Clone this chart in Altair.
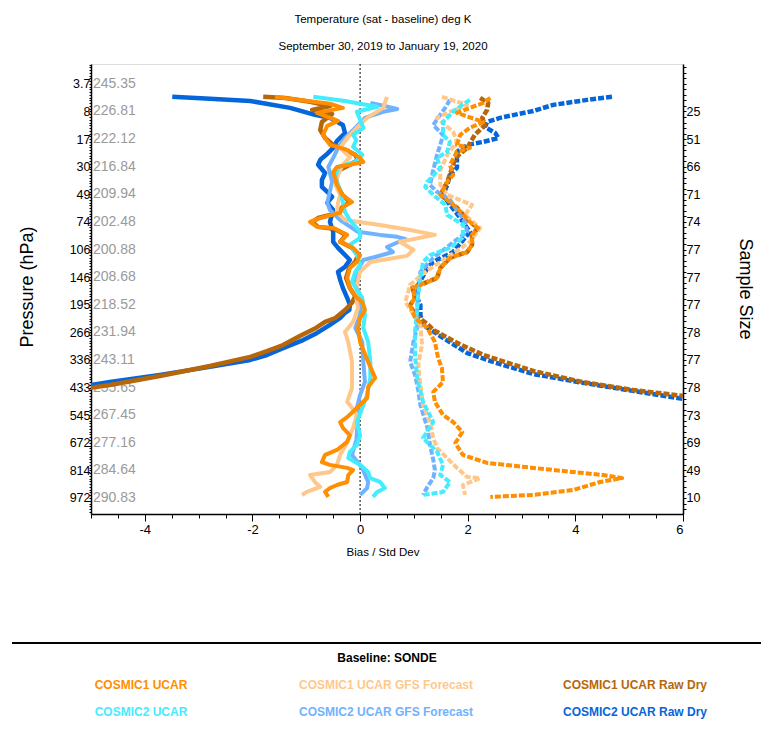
import json
import altair as alt
import numpy as np
import pandas as pd

# ---------------- axis labels ----------------
pressure = ["3.7", "8", "17", "30", "49", "74", "106", "146", "195", "266",
            "336", "433", "545", "672", "814", "972"]
temps = ["245.35", "226.81", "222.12", "216.84", "209.94", "202.48", "200.88",
         "208.68", "218.52", "231.94", "243.11", "255.65", "267.45", "277.16",
         "284.64", "290.83"]
sample = ["", "25", "51", "66", "71", "74", "77", "77", "77", "78", "77",
          "78", "73", "69", "49", "10"]

# ---------------- series (level index, value) ----------------
c2_raw_bias_lev = [0.47, 0.54, 0.62, 0.87, 1.12, 1.23, 1.49, 1.78, 2.07, 2.32, 2.57, 2.75, 2.93, 3.23, 3.48,
                   3.73, 3.91, 4.09, 4.31, 4.57, 5.0, 5.36, 5.72, 5.94, 6.20, 6.38, 6.63, 6.81, 7.10, 7.39,
                   7.75, 8.01, 8.19, 8.30, 8.48, 8.73, 9.02, 9.28, 9.57, 9.82, 10.0, 10.25, 10.54, 10.80, 10.91]
c2_raw_bias_val = [-3.49, -2.79, -2.04, -1.30, -0.84, -0.56, -0.32, -0.28, -0.43, -0.50, -0.63, -0.74, -0.78, -0.65, -0.71,
                   -0.71, -0.61, -0.52, -0.61, -0.50, -0.56, -0.50, -0.50, -0.41, -0.28, -0.19, -0.28, -0.41, -0.37, -0.32,
                   -0.24, -0.19, -0.20, -0.28, -0.37, -0.56, -0.80, -1.06, -1.43, -1.73, -2.04, -2.79, -3.72, -4.65, -5.02]

c1_raw_bias_lev = [0.47, 0.51, 0.65, 0.80, 0.94, 1.09, 1.38, 1.67, 1.96, 2.21, 2.39, 2.57, 2.75, 2.93, 3.19,
                   3.66, 4.02, 4.28, 4.46, 4.67, 4.86, 5.0, 5.18, 5.25, 5.47, 5.72, 5.94, 6.20, 6.45, 6.67,
                   7.03, 7.39, 7.68, 7.93, 8.19, 8.48, 8.62, 8.84, 9.13, 9.46, 9.68, 9.89, 10.22, 10.58, 10.91, 11.01]
c1_raw_bias_val = [-1.80, -1.39, -0.93, -0.56, -0.89, -0.52, -0.71, -0.74, -0.65, -0.50, -0.28, -0.09, -0.04, -0.19, -0.45,
                   -0.43, -0.33, -0.19, -0.33, -0.41, -0.78, -0.89, -0.78, -0.48, -0.26, -0.37, -0.15, -0.04, -0.09, -0.20,
                   -0.26, -0.19, -0.09, -0.15, -0.28, -0.46, -0.65, -0.82, -1.12, -1.43, -1.73, -2.04, -2.79, -3.72, -4.65, -5.02]

c1_ucar_bias_lev = [0.47, 0.58, 0.72, 0.87, 1.05, 1.34, 1.52, 1.85, 2.21, 2.39, 2.68, 2.83, 2.93, 3.01, 3.19,
                    3.66, 4.02, 4.28, 4.46, 4.67, 4.86, 5.0, 5.18, 5.22, 5.47, 5.72, 5.94, 6.20, 6.45, 6.67,
                    7.03, 7.39, 7.75, 7.90, 8.19, 8.48, 8.84, 9.35, 10.07, 10.65, 10.98, 11.38, 11.74, 12.07, 12.25,
                    12.46, 12.72, 12.97, 13.26, 13.44, 13.70, 13.80, 13.91, 13.99, 14.17, 14.42, 14.53, 14.64, 14.78, 14.96]
c1_ucar_bias_val = [-1.58, -1.12, -0.56, -0.32, -0.80, -0.41, -0.61, -0.69, -0.56, -0.24, 0.0, 0.06, -0.19, -0.43, -0.50,
                    -0.43, -0.33, -0.15, -0.32, -0.37, -0.74, -0.93, -0.80, -0.50, -0.24, -0.37, -0.13, 0.0, -0.06, -0.19,
                    -0.24, -0.19, -0.06, 0.04, 0.09, 0.0, -0.04, 0.0, 0.15, 0.28, 0.15, 0.13, -0.06, -0.24, -0.37,
                    -0.32, -0.19, -0.24, -0.43, -0.65, -0.71, -0.56, -0.24, -0.13, -0.22, -0.24, -0.43, -0.56, -0.65, -0.59]

c1_gfs_bias_lev = [0.47, 0.69, 0.87, 1.23, 1.59, 1.96, 2.32, 2.65, 2.93, 3.30, 3.66, 4.02, 4.31, 4.64, 4.93,
                   5.11, 5.29, 5.47, 5.72, 6.01, 6.23, 6.45, 6.81, 7.28, 7.75, 8.12, 8.62, 8.99, 9.35, 10.07,
                   11.01, 11.52, 11.63, 11.99, 12.46, 12.97, 13.44, 13.80, 14.06, 14.17, 14.42, 14.60, 14.78, 14.89]
c1_gfs_bias_val = [0.50, 0.46, 0.43, 0.13, -0.06, -0.24, -0.37, -0.19, -0.32, -0.41, -0.46, -0.37, -0.41, -0.43, -0.28,
                   0.37, 0.93, 1.39, 0.74, 0.99, 0.87, 0.19, 0.0, -0.06, -0.07, -0.04, -0.13, -0.28, -0.22, -0.15,
                   -0.15, -0.24, -0.19, -0.06, -0.13, -0.24, -0.37, -0.43, -0.56, -0.93, -0.84, -0.74, -0.99, -1.08]

c2_ucar_bias_lev = [0.47, 0.62, 0.83, 1.01, 1.30, 1.59, 1.85, 2.03, 2.28, 2.57, 2.83, 3.01, 3.41, 3.84, 4.28,
                    4.64, 4.93, 5.36, 5.58, 5.83, 6.20, 6.56, 6.81, 7.17, 7.46, 7.75, 8.37, 8.84, 9.35, 10.07,
                    10.65, 11.27, 11.74, 12.25, 12.72, 13.08, 13.33, 13.55, 13.80, 14.06, 14.28, 14.42, 14.64, 14.78, 14.96]
c2_ucar_bias_val = [-0.87, -0.28, 0.32, -0.06, 0.0, 0.06, -0.13, -0.07, -0.13, 0.04, -0.09, -0.41, -0.46, -0.37, -0.32,
                    -0.28, -0.19, 0.0, 0.0, -0.19, -0.06, 0.0, -0.09, -0.15, -0.06, 0.04, 0.09, 0.06, 0.15, 0.19,
                    0.19, 0.13, 0.04, -0.06, 0.0, -0.06, -0.19, -0.22, 0.0, 0.15, 0.19, 0.37, 0.46, 0.32, 0.24]

c2_gfs_bias_lev = [0.69, 0.76, 0.91, 1.01, 1.23, 1.59, 1.96, 2.32, 2.68, 3.01, 3.55, 4.31, 4.57, 4.93, 5.36,
                   5.47, 5.54, 5.62, 5.91, 6.09, 6.27, 6.38, 6.74, 7.28, 7.64, 8.37, 8.84, 9.35, 10.07, 10.80,
                   11.27, 11.74, 12.17, 12.90, 13.44, 13.91, 14.42, 14.64, 14.89]
c2_gfs_bias_val = [0.19, 0.37, 0.69, 0.43, 0.09, -0.09, -0.28, -0.41, -0.50, -0.59, -0.52, -0.61, -0.56, -0.37, -0.04,
                   0.37, 0.69, 0.84, 0.50, 0.61, 0.28, 0.06, -0.04, -0.09, 0.0, 0.0, -0.09, 0.04, 0.06, 0.09,
                   0.0, -0.06, -0.04, -0.07, -0.15, 0.04, 0.15, 0.13, 0.0]

c2_raw_std_lev = [0.47, 0.58, 0.76, 0.98, 1.23, 1.38, 1.56, 1.78, 1.96, 2.10, 2.21, 2.46, 3.04, 3.30, 3.66,
                  4.02, 4.38, 4.75, 5.36, 6.09, 6.45, 6.67, 7.28, 7.75, 8.01, 8.37, 8.73, 9.20, 9.75, 10.07,
                  10.51, 10.83, 11.12, 11.41]
c2_raw_std_val = [4.68, 4.22, 3.59, 3.22, 2.60, 2.36, 2.32, 2.51, 2.57, 2.29, 1.99, 1.80, 1.80, 1.67, 1.62,
                  1.54, 1.67, 1.82, 2.04, 1.73, 1.36, 1.25, 1.08, 1.06, 1.12, 1.12, 1.17, 1.54, 1.99, 2.47,
                  3.22, 4.14, 5.07, 6.0]

c1_raw_std_lev = [0.51, 0.69, 0.94, 1.23, 1.49, 1.85, 2.32, 2.68, 2.93, 3.55, 4.02, 4.28, 4.49, 5.0, 5.22,
                  5.47, 5.83, 6.09, 6.30, 6.67, 7.03, 7.28, 7.39, 7.75, 8.01, 8.37, 8.70, 8.91, 9.38, 9.82,
                  10.40, 10.80, 11.09, 11.30]
c1_raw_std_val = [2.23, 2.38, 2.36, 2.27, 2.32, 2.13, 1.99, 1.77, 1.73, 1.62, 1.49, 1.67, 1.80, 2.04, 2.19,
                  2.08, 2.08, 1.99, 1.67, 1.49, 1.43, 1.12, 0.97, 1.02, 0.93, 1.02, 1.25, 1.36, 1.80, 2.29,
                  3.22, 4.14, 5.07, 6.0]

c1_ucar_std_lev = [0.51, 0.69, 0.87, 1.05, 1.38, 1.59, 1.85, 2.21, 2.32, 2.46, 2.93, 3.30, 3.55, 4.02, 4.28,
                   4.49, 5.0, 5.22, 5.47, 5.83, 6.09, 6.30, 6.67, 7.03, 7.28, 7.39, 7.75, 8.01, 8.48, 8.84,
                   9.35, 9.93, 10.29, 10.80, 11.16, 11.52, 11.99, 12.25, 12.61, 13.01, 13.44, 13.73, 13.91, 14.06, 14.17,
                   14.28, 14.42, 14.71, 14.89, 14.96]
c1_ucar_std_val = [2.42, 2.29, 2.04, 1.80, 2.29, 2.04, 1.86, 1.80, 2.04, 1.80, 1.67, 1.73, 1.62, 1.49, 1.67,
                   1.80, 2.04, 2.19, 2.08, 2.08, 1.99, 1.67, 1.49, 1.43, 1.12, 0.97, 1.02, 0.93, 1.02, 1.25,
                   1.39, 1.45, 1.52, 1.54, 1.36, 1.39, 1.54, 1.73, 1.90, 1.77, 1.91, 2.36, 3.22, 3.96, 4.52,
                   4.87, 4.46, 3.96, 3.22, 2.42]

c1_gfs_std_lev = [0.47, 0.76, 1.01, 1.23, 1.74, 2.10, 2.57, 3.12, 3.66, 4.02, 4.38, 4.75, 5.22, 5.72, 6.09,
                  6.45, 6.81, 7.28, 7.90, 8.73, 9.46, 10.18, 10.91, 11.63, 12.25, 12.83, 13.19, 13.91, 14.24, 14.28,
                  14.53, 14.89]
c1_gfs_std_val = [1.52, 1.99, 1.67, 1.43, 1.73, 1.80, 1.62, 1.49, 1.49, 1.62, 2.08, 1.95, 2.23, 2.04, 1.77,
                  1.49, 1.21, 0.93, 0.84, 1.12, 1.15, 1.08, 1.12, 1.17, 1.30, 1.36, 1.43, 1.80, 1.99, 2.23,
                  1.91, 1.95]

c2_ucar_std_lev = [0.58, 0.76, 1.01, 1.38, 1.85, 2.10, 2.46, 2.68, 3.04, 3.55, 3.73, 4.02, 4.38, 4.75, 5.11,
                   5.58, 5.94, 6.20, 6.45, 7.03, 7.64, 8.19, 8.99, 9.82, 10.65, 11.52, 12.25, 12.83, 13.33, 13.80,
                   14.17, 14.42, 14.78, 14.89]
c2_ucar_std_val = [2.04, 1.90, 1.73, 1.54, 1.54, 1.67, 1.62, 1.43, 1.49, 1.25, 1.21, 1.36, 1.58, 1.62, 1.92,
                   1.90, 1.67, 1.30, 1.17, 1.12, 1.08, 1.06, 1.02, 1.02, 1.06, 1.17, 1.36, 1.17, 1.43, 1.54,
                   1.49, 1.67, 1.54, 1.17]

c2_gfs_std_lev = [0.58, 0.87, 1.23, 1.49, 1.85, 2.21, 2.57, 3.12, 3.66, 3.91, 4.20, 4.64, 5.0, 5.36, 5.83,
                  6.30, 6.81, 7.46, 8.19, 8.84, 9.35, 10.07, 10.54, 11.09, 11.63, 12.46, 13.08, 13.62, 13.99, 14.28,
                  14.60, 14.89]
c2_gfs_std_val = [1.67, 1.58, 1.45, 1.36, 1.54, 1.49, 1.43, 1.36, 1.30, 1.43, 1.67, 1.82, 1.95, 1.99, 1.67,
                  1.36, 1.12, 1.08, 1.06, 1.06, 0.99, 0.93, 1.02, 1.08, 1.12, 1.25, 1.30, 1.36, 1.39, 1.36,
                  1.25, 1.17]

# ---------------- styles ----------------
C1_UCAR = "#FF8E00"
C1_GFS = "#FFC88A"
C1_RAW = "#B7660A"
C2_UCAR = "#44ECFF"
C2_GFS = "#70B2FF"
C2_RAW = "#0565DA"

FONT = "Liberation Sans"

W, H = 592, 450
xs = alt.Scale(domain=[-5, 6], nice=False, zero=False)
ys = alt.Scale(domain=[-0.72, 15.58], nice=False, zero=False, reverse=True)


def line_layer(levs, vals, color, dashed, width):
    df = pd.DataFrame({"l": levs[:len(vals)], "v": vals[:len(levs)]})
    df["o"] = range(len(df))
    kw = dict(color=color, strokeWidth=width, strokeJoin="round", clip=True)
    if dashed:
        kw["strokeDash"] = [6, 2]
        kw["strokeCap"] = "butt"
    return alt.Chart(df).mark_line(**kw).encode(
        x=alt.X("v:Q", scale=xs, axis=None),
        y=alt.Y("l:Q", scale=ys, axis=None),
        order="o:Q",
    )


def text_layer(txt, x, y, size=12, color="black", weight="normal", angle=0,
               font=FONT, align="center"):
    kw = dict(fontSize=size, color=color, fontWeight=weight, font=font, align=align,
              baseline="middle")
    if angle:
        kw["angle"] = angle
    return alt.Chart(pd.DataFrame({"t": [txt]})).mark_text(**kw).encode(
        x=alt.value(x), y=alt.value(y), text="t:N")


layers = []

# zero line carrying the major bottom axis
major_x = [-4.0, -2.0, 0.0, 2.0, 4.0, 6.0]
minor_x = [float(v) for v in np.arange(-5, 6.01, 0.5)]
zero = alt.Chart(pd.DataFrame({"z": [0.0]})).mark_rule(
    color="black", strokeDash=[2, 2], strokeWidth=1
).encode(
    x=alt.X("z:Q", scale=xs, axis=alt.Axis(
        orient="bottom", title=None, values=major_x, grid=False,
        labelExpr="'' + datum.value", tickSize=7, tickColor="black",
        domainColor="black", domainWidth=1.5, labelOverlap=False,
        labelFont=FONT, labelFontSize=13, labelColor="black", labelPadding=2,
    )),
)
layers.append(zero)
minor_x_layer = alt.Chart(pd.DataFrame({"z": [0.0]})).mark_point(opacity=0).encode(
    x=alt.X("z:Q", scale=xs, axis=alt.Axis(
        orient="bottom", title=None, values=minor_x, grid=False, labels=False,
        domain=False, tickSize=4, tickColor="black")))
layers.append(minor_x_layer)

# left axis (pressure) + grey temperature labels
lab_expr_p = json.dumps(pressure) + "[datum.value]"
tdf = pd.DataFrame({"lev": list(range(len(temps))), "t": temps})
temp_layer = alt.Chart(tdf).mark_text(
    align="left", baseline="middle", color="#9a9a9a", font=FONT, fontSize=14
).encode(
    x=alt.value(2),
    y=alt.Y("lev:Q", scale=ys, axis=alt.Axis(
        orient="left", title=None, values=list(range(16)), labelExpr=lab_expr_p,
        tickSize=0, grid=False, domainColor="black", domainWidth=1.5,
        labelFont=FONT, labelFontSize=12.5, labelColor="black", labelPadding=1,
    )),
    text="t:N",
)
layers.append(temp_layer)

# right axis (sample size)
lab_expr_s = json.dumps(sample) + "[datum.value]"
sdf = pd.DataFrame({"lev": list(range(16))})
right_axis = alt.Chart(sdf).mark_point(opacity=0).encode(
    y=alt.Y("lev:Q", scale=ys, axis=alt.Axis(
        orient="right", title=None, values=list(range(16)), labelExpr=lab_expr_s,
        tickSize=0, grid=False, domainColor="black", domainWidth=1.5,
        labelFont=FONT, labelFontSize=12.5, labelColor="black", labelPadding=3,
    )),
)
layers.append(right_axis)

# minor ticks
minor_l = [round(float(v), 2) for v in np.arange(-0.7, 15.58, 0.1)]
minor_r = [round(float(v), 2) for v in np.arange(-0.6, 15.58, 0.2)]
ml = alt.Chart(sdf).mark_point(opacity=0).encode(
    y=alt.Y("lev:Q", scale=ys, axis=alt.Axis(
        orient="left", title=None, values=minor_l, labels=False, domain=False,
        tickSize=2, tickColor="black", grid=False)))
mr = alt.Chart(sdf).mark_point(opacity=0).encode(
    y=alt.Y("lev:Q", scale=ys, axis=alt.Axis(
        orient="right", title=None, values=minor_r, labels=False, domain=False,
        tickSize=3, tickColor="black", grid=False)))
layers += [ml, mr]

# data lines: bias (solid) then std (dashed)
series = [
    (c2_raw_bias_lev, c2_raw_bias_val, C2_RAW, False, 4.5),
    (c1_raw_bias_lev, c1_raw_bias_val, C1_RAW, False, 4.5),
    (c2_gfs_bias_lev, c2_gfs_bias_val, C2_GFS, False, 4),
    (c1_gfs_bias_lev, c1_gfs_bias_val, C1_GFS, False, 4),
    (c2_ucar_bias_lev, c2_ucar_bias_val, C2_UCAR, False, 4),
    (c1_ucar_bias_lev, c1_ucar_bias_val, C1_UCAR, False, 4),
    (c2_raw_std_lev, c2_raw_std_val, C2_RAW, True, 4.5),
    (c1_raw_std_lev, c1_raw_std_val, C1_RAW, True, 4.5),
    (c2_gfs_std_lev, c2_gfs_std_val, C2_GFS, True, 4),
    (c1_gfs_std_lev, c1_gfs_std_val, C1_GFS, True, 4),
    (c2_ucar_std_lev, c2_ucar_std_val, C2_UCAR, True, 4),
    (c1_ucar_std_lev, c1_ucar_std_val, C1_UCAR, True, 4),
]
for s in series:
    layers.append(line_layer(*s))

# titles
layers.append(text_layer("Temperature (sat - baseline) deg K", 292, -44, size=11.5))
layers.append(text_layer("September 30, 2019  to  January 19, 2020", 292, -17, size=11.5))
layers.append(text_layer("Bias / Std Dev", 292, 489, size=11.5))
layers.append(text_layer("Pressure (hPa)", -63, 223, size=18, angle=270))
layers.append(text_layer("Sample Size", 654, 225, size=18, angle=90))

# legend block
layers.append(alt.Chart(pd.DataFrame({"a": [0]})).mark_rule(color="black", strokeWidth=2).encode(
    x=alt.value(-79), x2=alt.value(670), y=alt.value(579)))
layers.append(text_layer("Baseline:  SONDE", 296, 594, size=12, weight="bold"))
legend_items = [
    ("COSMIC1 UCAR", C1_UCAR, 50, 621),
    ("COSMIC1 UCAR GFS Forecast", C1_GFS, 295, 621),
    ("COSMIC1 UCAR Raw Dry", C1_RAW, 544, 621),
    ("COSMIC2 UCAR", C2_UCAR, 50, 648),
    ("COSMIC2 UCAR GFS Forecast", C2_GFS, 295, 648),
    ("COSMIC2 UCAR Raw Dry", C2_RAW, 544, 648),
]
for name, col, lx, ly in legend_items:
    layers.append(text_layer(name, lx, ly, size=12, color=col, weight="bold"))

chart = alt.layer(*layers).resolve_axis(x="independent", y="independent").properties(
    width=W, height=H,
    autosize=alt.AutoSizeParams(type="none"),
    padding={"left": 91, "top": 64, "right": 78, "bottom": 215},
).configure_view(stroke="#555555", strokeWidth=2).configure(background="white")

chart.save("out.html", embed_options={"renderer": "svg", "actions": False})
